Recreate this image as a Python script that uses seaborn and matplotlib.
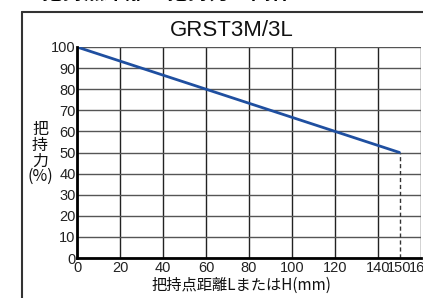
import matplotlib
matplotlib.use("Agg")
import matplotlib.pyplot as plt
import seaborn as sns
import pandas as pd
from matplotlib.lines import Line2D

# data
distance_mm = [0, 150]
grip_force_pct = [100, 50]
x_ticks = [0, 20, 40, 60, 80, 100, 120, 140, 150, 160]
x_grid = [0, 20, 40, 60, 80, 100, 120, 140, 160]
y_ticks = [0, 10, 20, 30, 40, 50, 60, 70, 80, 90, 100]
title = "GRST3M/3L"
header = "■把持点距離と把持力の関係"
xlabel = "把持点距離LまたはH(mm)"
ylabel = "把\n持\n力\n(%)"

sns.set_theme(style="white")
plt.rcParams['font.family'] = ['Liberation Sans', 'Noto Sans CJK JP', 'DejaVu Sans']

W, H = 423, 298
fig = plt.figure(figsize=(W / 100, H / 100), dpi=100)
ax = fig.add_axes([77 / W, 40 / H, 344 / W, 211 / H])

df = pd.DataFrame({"x": distance_mm, "y": grip_force_pct})

# grid
for gx in x_grid:
    ax.axvline(gx, color="#222222", lw=1.0, zorder=1)
for gy in y_ticks:
    ax.axhline(gy, color="#555555", lw=1.0, zorder=1)

sns.lineplot(data=df, x="x", y="y", ax=ax, color="#1f4fa0", lw=2.0, zorder=3)
ax.vlines(distance_mm[-1], 0, grip_force_pct[-1], colors="#333333",
          linestyles=(0, (3, 2)), lw=1.0, zorder=2)

ax.set_xlim(0, 160)
ax.set_ylim(0, 100)
ax.set_xticks(x_ticks)
ax.set_xticklabels([str(v) for v in x_ticks])
ax.set_yticks(y_ticks)
ax.set_yticklabels([str(v) for v in y_ticks])
ax.tick_params(axis="both", labelsize=10.5, length=0, colors="#222222")
ax.tick_params(axis="x", pad=2)
ax.tick_params(axis="y", pad=1)
ax.set_xlabel("")
ax.set_ylabel("")
for s in ["top", "right"]:
    ax.spines[s].set_visible(False)
for s in ["left", "bottom"]:
    ax.spines[s].set_color("black")
    ax.spines[s].set_linewidth(2.0)
    ax.spines[s].set_zorder(4)

# outer frame
fig.add_artist(Line2D([22 / W, 22 / W], [0, 1 - 12 / H], transform=fig.transFigure,
                      color="#333333", lw=1.5))
fig.add_artist(Line2D([22 / W, 1.0], [1 - 12 / H, 1 - 12 / H], transform=fig.transFigure,
                      color="#333333", lw=1.5))

fig.text(22 / W, 1.0 + 0.5 / H, header, fontsize=15, fontweight="bold",
         family=['Noto Sans CJK JP'], va="baseline", ha="left", color="black")
fig.text(232 / W, 1 - 31 / H, title, fontsize=16, va="center", ha="center", color="#111111")
fig.text(241 / W, 1 - 285 / H, xlabel, fontsize=11, va="center", ha="center",
         family=['Noto Sans CJK JP', 'DejaVu Sans'], color="#111111")
fig.text(40 / W, 1 - 153 / H, ylabel, fontsize=11.5, va="center", ha="center",
         family=['Noto Sans CJK JP', 'DejaVu Sans'], color="#111111", linespacing=0.9)

fig.savefig("out.png", dpi=100)
